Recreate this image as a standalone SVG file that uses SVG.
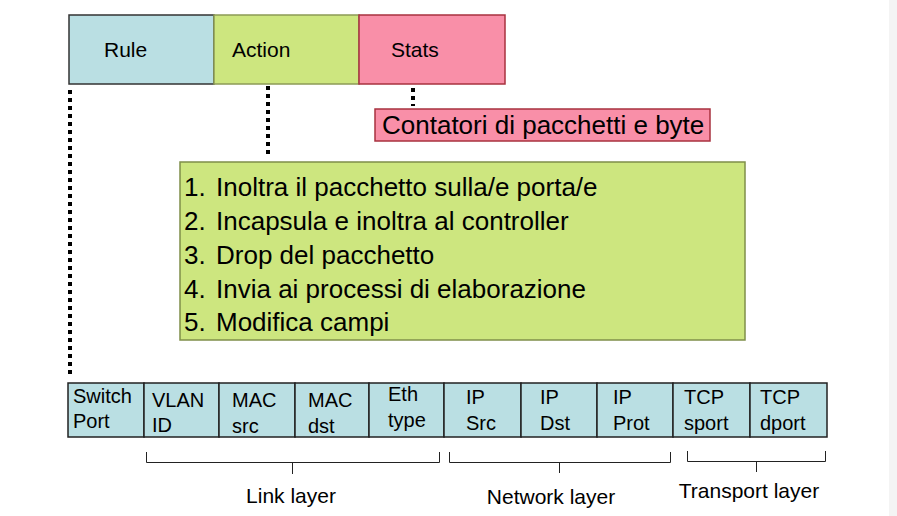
<svg xmlns="http://www.w3.org/2000/svg" width="897" height="516" viewBox="0 0 897 516">
<style>
text{font-family:"Liberation Sans",Arial,sans-serif;fill:#000}
.top{font-size:21px}
.big{font-size:26px}
.cell{fill:#badfe3;stroke:#222;stroke-width:1.5}
.ct{font-size:20px}
.br{fill:none;stroke:#222;stroke-width:1}
.dot{stroke:#000;stroke-width:4;stroke-dasharray:4 4;fill:none}
.lab{font-size:21px;text-anchor:middle}
</style>
<rect x="889" y="0" width="8" height="516" fill="#f4f4f4"/>
<g id="rule"><rect x="69" y="15" width="145" height="69" fill="#badfe3" stroke="#333" stroke-width="1.5"/><text class="top" x="104" y="57">Rule</text></g>
<g id="action"><rect x="214" y="15" width="145" height="69" fill="#cde67f" stroke="#8c9b56" stroke-width="1.5"/><text class="top" x="232" y="57">Action</text></g>
<g id="stats"><rect x="359" y="15" width="146" height="69" fill="#f98fa8" stroke="#a8323f" stroke-width="1.5"/><text class="top" x="391" y="57">Stats</text></g>
<g id="contatori"><rect x="375" y="109" width="335" height="32" fill="#f98fa8" stroke="#a8323f" stroke-width="1.5"/><text class="big" x="382" y="134">Contatori di pacchetti e byte</text></g>
<g id="actions-list"><rect x="180" y="162" width="565" height="178" fill="#cde67f" stroke="#7f8f4a" stroke-width="1.5"/>
<text class="big" x="184" y="196">1.</text><text class="big" x="216" y="196">Inoltra il pacchetto sulla/e porta/e</text>
<text class="big" x="184" y="230">2.</text><text class="big" x="216" y="230">Incapsula e inoltra al controller</text>
<text class="big" x="184" y="264">3.</text><text class="big" x="216" y="264">Drop del pacchetto</text>
<text class="big" x="184" y="298">4.</text><text class="big" x="216" y="298">Invia ai processi di elaborazione</text>
<text class="big" x="184" y="331">5.</text><text class="big" x="216" y="331">Modifica campi</text>
</g>
<g id="connectors">
<line class="dot" x1="70" y1="90" x2="70" y2="378"/>
<line class="dot" x1="268" y1="86" x2="268" y2="156"/>
<line class="dot" x1="413" y1="88" x2="413" y2="106"/>
</g>
<g id="fields">
<g id="f-switch"><rect class="cell" x="68" y="383" width="76" height="54"/><text class="ct" x="73" y="403">Switch</text><text class="ct" x="73" y="428">Port</text></g>
<g id="f-vlan"><rect class="cell" x="144" y="383" width="75" height="54"/><text class="ct" x="152" y="407">VLAN</text><text class="ct" x="152" y="432">ID</text></g>
<g id="f-macsrc"><rect class="cell" x="219" y="383" width="76" height="54"/><text class="ct" x="232" y="407">MAC</text><text class="ct" x="232" y="433">src</text></g>
<g id="f-macdst"><rect class="cell" x="295" y="383" width="74" height="54"/><text class="ct" x="308" y="407">MAC</text><text class="ct" x="308" y="433">dst</text></g>
<g id="f-eth"><rect class="cell" x="369" y="383" width="75" height="54"/><text class="ct" x="388" y="401">Eth</text><text class="ct" x="388" y="427">type</text></g>
<g id="f-ipsrc"><rect class="cell" x="444" y="383" width="77" height="54"/><text class="ct" x="466" y="404">IP</text><text class="ct" x="466" y="430">Src</text></g>
<g id="f-ipdst"><rect class="cell" x="521" y="383" width="76" height="54"/><text class="ct" x="540" y="404">IP</text><text class="ct" x="540" y="430">Dst</text></g>
<g id="f-ipprot"><rect class="cell" x="597" y="383" width="76" height="54"/><text class="ct" x="613" y="404">IP</text><text class="ct" x="613" y="430">Prot</text></g>
<g id="f-tcpsport"><rect class="cell" x="673" y="383" width="77" height="54"/><text class="ct" x="684" y="404">TCP</text><text class="ct" x="684" y="430">sport</text></g>
<g id="f-tcpdport"><rect class="cell" x="750" y="383" width="77" height="54"/><text class="ct" x="760" y="404">TCP</text><text class="ct" x="760" y="430">dport</text></g>
</g>
<g id="link-layer"><path class="br" d="M146.5 452V462.5H439.5V452M292.5 462.5V474"/><text class="lab" x="291" y="503">Link layer</text></g>
<g id="network-layer"><path class="br" d="M449.5 452V462.5H670.5V452M559.5 462.5V473"/><text class="lab" x="551" y="504">Network layer</text></g>
<g id="transport-layer"><path class="br" d="M687.5 451V461.5H825.5V451M756.5 461.5V472"/><text class="lab" x="749" y="498">Transport layer</text></g>
</svg>
